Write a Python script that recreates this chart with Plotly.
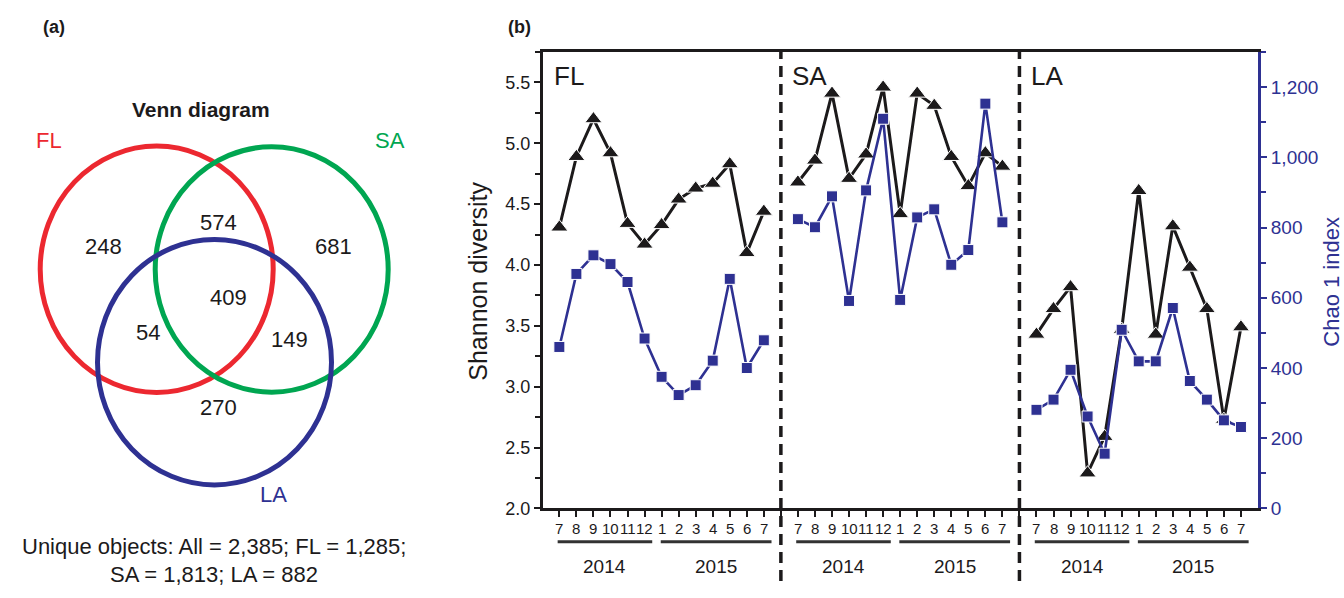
import plotly.graph_objects as go

# ---------------- data ----------------
months = ["7", "8", "9", "10", "11", "12", "1", "2", "3", "4", "5", "6", "7"]
years = ["2014", "2015"]
sites = ["FL", "SA", "LA"]

shannon_FL = [4.31, 4.89, 5.20, 4.92, 4.34, 4.17, 4.33, 4.54, 4.63, 4.67, 4.83, 4.10, 4.44]
chao_FL = [460, 668, 721, 696, 645, 484, 375, 323, 351, 421, 654, 400, 479]

shannon_SA = [4.68, 4.86, 5.41, 4.71, 4.91, 5.46, 4.42, 5.41, 5.31, 4.89, 4.65, 4.92, 4.81]
chao_SA = [824, 801, 889, 591, 906, 1110, 594, 829, 852, 694, 736, 1153, 815]

shannon_LA = [3.43, 3.64, 3.82, 2.29, 2.59, 3.47, 4.61, 3.43, 4.32, 3.98, 3.64, 2.73, 3.49]
chao_LA = [281, 310, 395, 262, 156, 509, 419, 419, 571, 363, 310, 251, 232]

venn_regions = ["FL only", "FL∩SA", "SA only", "FL∩SA∩LA", "FL∩LA", "SA∩LA", "LA only"]
venn_counts = [248, 574, 681, 409, 54, 149, 270]
unique_all, unique_FL, unique_SA, unique_LA = 2385, 1285, 1813, 882

shannon_ticks = [2.0, 2.5, 3.0, 3.5, 4.0, 4.5, 5.0, 5.5]
chao_ticks = [0, 200, 400, 600, 800, 1000, 1200]

# ---------------- style ----------------
W, H = 1344, 598
BLACK = "#1c1a1b"
BLUE = "#2e3192"
RED = "#ec2830"
GREEN = "#00a651"
SANS = "Liberation Sans, Arial, sans-serif"

def py(ypx):
    return 1 - ypx / H

fig = go.Figure()

shannon_sets = [shannon_FL, shannon_SA, shannon_LA]
chao_sets = [chao_FL, chao_SA, chao_LA]
section_len = len(months)
section_step = section_len + 1
starts = [k * section_step for k in range(len(sites))]

for k in range(len(sites)):
    xs = [starts[k] + i for i in range(section_len)]
    fig.add_trace(go.Scatter(
        x=xs, y=shannon_sets[k], mode="lines+markers",
        line=dict(color=BLACK, width=3),
        marker=dict(symbol="triangle-up", size=15, color=BLACK,
                    line=dict(color="white", width=1)),
        xaxis="x", yaxis="y", showlegend=False, cliponaxis=False))
for k in range(len(sites)):
    xs = [starts[k] + i for i in range(section_len)]
    fig.add_trace(go.Scatter(
        x=xs, y=chao_sets[k], mode="lines+markers",
        line=dict(color=BLUE, width=2.6),
        marker=dict(symbol="square", size=11, color=BLUE,
                    line=dict(color="white", width=1)),
        xaxis="x", yaxis="y2", showlegend=False, cliponaxis=False))

# x ticks at every slot
tickvals = list(range(0, starts[-1] + section_len))

xdom = [543 / W, 1258 / W]
ydom = [py(518), py(53)]

shapes = []
annotations = []

# month labels under the axis
for k in range(len(sites)):
    for i, m in enumerate(months):
        annotations.append(dict(text=m, xref="x", yref="paper",
                                x=starts[k] + i, y=py(538),
                                showarrow=False, xanchor="center", yanchor="middle",
                                font=dict(family=SANS, size=15, color=BLACK)))

# section dividers
for k in range(1, len(sites)):
    xd = starts[k] - 1
    shapes.append(dict(type="line", xref="x", yref="paper", x0=xd, x1=xd,
                       y0=py(592), y1=py(53),
                       line=dict(color=BLACK, width=3.5, dash="11px,7px")))

# year underlines and labels
year_spans = [(-0.1, 5.45), (5.95, 12.45)]
for k in range(len(sites)):
    for j, yr in enumerate(years):
        a, b = year_spans[j]
        shapes.append(dict(type="line", xref="x", yref="paper",
                           x0=starts[k] + a, x1=starts[k] + b,
                           y0=py(552), y1=py(552),
                           line=dict(color="#333333", width=3)))
        annotations.append(dict(text=yr, xref="x", yref="paper",
                                x=starts[k] + (a + b) / 2, y=py(577),
                                showarrow=False, xanchor="center", yanchor="middle",
                                font=dict(family=SANS, size=19, color=BLACK)))

# site labels in panel b
for k, s in enumerate(sites):
    annotations.append(dict(text=s, xref="x", yref="paper",
                            x=starts[k] - 0.45, y=py(77),
                            showarrow=False, xanchor="left", yanchor="middle",
                            font=dict(family=SANS, size=26, color=BLACK)))

# axis titles
annotations.append(dict(text="Shannon diversity", xref="paper", yref="paper",
                        x=478 / W, y=py(287), textangle=-90, showarrow=False,
                        xanchor="center", yanchor="middle",
                        font=dict(family=SANS, size=25, color=BLACK)))
annotations.append(dict(text="Chao 1 index", xref="paper", yref="paper",
                        x=1332 / W, y=py(287), textangle=-90, showarrow=False,
                        xanchor="center", yanchor="middle",
                        font=dict(family=SANS, size=22, color=BLUE)))

# panel letters
annotations.append(dict(text="<b>(a)</b>", xref="paper", yref="paper",
                        x=54 / W, y=py(27), showarrow=False,
                        xanchor="center", yanchor="middle",
                        font=dict(family=SANS, size=18, color=BLACK)))
annotations.append(dict(text="<b>(b)</b>", xref="paper", yref="paper",
                        x=519 / W, y=py(27), showarrow=False,
                        xanchor="center", yanchor="middle",
                        font=dict(family=SANS, size=18, color=BLACK)))

# ---------------- Venn panel (pixel coordinate axes x3/y3) ----------------
circles = [
    (156.7, 274.3, 116.5, 125.5, RED),
    (271.7, 274.5, 116.5, 125.0, GREEN),
    (214.5, 369.0, 117.0, 125.0, BLUE),
]
for cx, cy, rx, ry, col in circles:
    shapes.append(dict(type="circle", xref="x3", yref="y3",
                       x0=cx - rx, x1=cx + rx, y0=cy - ry, y1=cy + ry,
                       line=dict(color=col, width=5)))

venn_pos = [(103, 251), (218, 227), (333, 251), (228, 303), (148, 339), (289, 346), (218, 415)]
for (x, y), c in zip(venn_pos, venn_counts):
    annotations.append(dict(text=f"{c:,}", xref="x3", yref="y3", x=x, y=y,
                            showarrow=False, xanchor="center", yanchor="middle",
                            font=dict(family=SANS, size=22, color=BLACK)))

annotations.append(dict(text="<b>Venn diagram</b>", xref="x3", yref="y3", x=201, y=112,
                        showarrow=False, xanchor="center", yanchor="middle",
                        font=dict(family=SANS, size=21, color=BLACK)))
for text, x, y, col in [("FL", 49, 143, RED), ("SA", 390, 143, GREEN), ("LA", 273, 504, BLUE)]:
    annotations.append(dict(text=text, xref="x3", yref="y3", x=x, y=y,
                            showarrow=False, xanchor="center", yanchor="middle",
                            font=dict(family=SANS, size=22, color=col)))

annotations.append(dict(
    text=f"Unique objects: All = {unique_all:,}; FL = {unique_FL:,};",
    xref="x3", yref="y3", x=214, y=557, showarrow=False,
    xanchor="center", yanchor="middle",
    font=dict(family=SANS, size=22, color=BLACK)))
annotations.append(dict(
    text=f"SA = {unique_SA:,}; LA = {unique_LA:,}",
    xref="x3", yref="y3", x=214, y=585, showarrow=False,
    xanchor="center", yanchor="middle",
    font=dict(family=SANS, size=22, color=BLACK)))

fig.update_layout(
    autosize=True,
    margin=dict(l=0, r=0, t=0, b=0, pad=0),
    paper_bgcolor="white", plot_bgcolor="white",
    xaxis=dict(domain=xdom, range=[-0.96, 41.0], anchor="y",
               tickmode="array", tickvals=tickvals, showticklabels=False,
               ticks="outside", ticklen=6, tickwidth=2, tickcolor=BLACK,
               showline=True, linewidth=3, linecolor=BLACK, mirror=True,
               showgrid=False, zeroline=False),
    yaxis=dict(domain=ydom, range=[2.0, 5.75], anchor="x",
               tickmode="array", tickvals=shannon_ticks,
               ticktext=[f"{v:.1f}" for v in shannon_ticks],
               ticks="outside", ticklen=6, tickwidth=2, tickcolor=BLACK,
               minor=dict(dtick=0.25, tick0=2.0, ticks="outside", ticklen=5,
                          tickwidth=2, tickcolor=BLACK, showgrid=False),
               showline=True, linewidth=3, linecolor=BLACK,
               showgrid=False, zeroline=False,
               tickfont=dict(family=SANS, size=18, color=BLACK)),
    yaxis2=dict(domain=ydom, range=[0, 1300], overlaying="y", side="right", anchor="x",
                tickmode="array", tickvals=chao_ticks,
                ticktext=[f"{v:,}" for v in chao_ticks],
                ticks="outside", ticklen=6, tickwidth=2, tickcolor=BLUE,
                minor=dict(dtick=100, tick0=0, ticks="outside", ticklen=5,
                           tickwidth=2, tickcolor=BLUE, showgrid=False),
                showline=True, linewidth=3, linecolor=BLUE,
                showgrid=False, zeroline=False,
                tickfont=dict(family=SANS, size=19, color=BLUE)),
    xaxis3=dict(domain=[0, 460 / W], range=[0, 460], anchor="y3",
                visible=False, fixedrange=True),
    yaxis3=dict(domain=[0, 1], range=[598, 0], anchor="x3",
                visible=False, fixedrange=True),
    shapes=shapes,
    annotations=annotations,
)

post = (
    "document.documentElement.style.margin='0';"
    "document.documentElement.style.overflow='hidden';"
    "document.body.style.margin='0';document.body.style.padding='0';"
    "document.body.style.overflow='hidden';"
    "var d=document.getElementsByClassName('plotly-graph-div')[0];"
    "d.style.position='fixed';d.style.top='0px';d.style.left='0px';"
    "d.style.width='100vw';d.style.height='100vh';"
    "Plotly.Plots.resize(d);"
)
fig.write_html("out.html", config={"displayModeBar": False, "responsive": True},
               default_width="100vw", default_height="100vh", post_script=post)
